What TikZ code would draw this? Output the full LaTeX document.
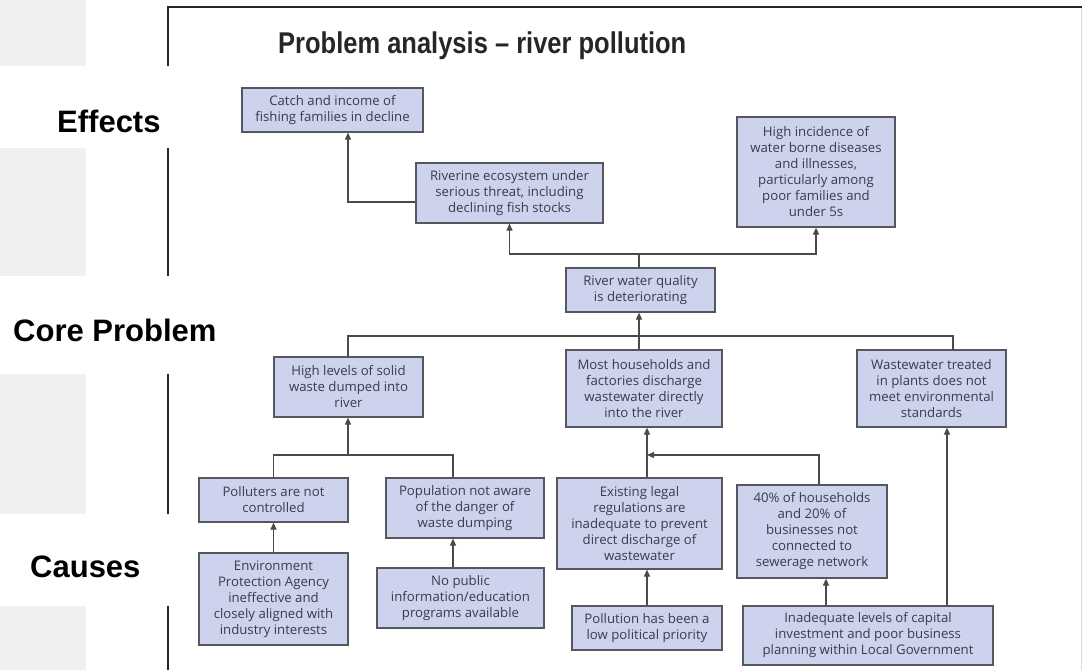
\documentclass[tikz,border=0pt]{standalone}
\usepackage{fontspec}
\usetikzlibrary{arrows.meta,calc}
\newfontfamily\boxfam{Open Sans}
\newfontfamily\lblfam{Liberation Sans}
\definecolor{boxfill}{HTML}{CDD3EC}
\definecolor{boxline}{HTML}{55575F}
\definecolor{boxtext}{HTML}{3A3C4C}
\definecolor{sidegray}{HTML}{F0F0F0}
\definecolor{connline}{HTML}{4A4A4A}
\tikzset{
  box/.style={draw=boxline, fill=boxfill, line width=1.2pt, inner sep=0pt, align=center,
    text=boxtext, font=\boxfam\fontsize{13.2}{16}\selectfont},
  conn/.style={draw=connline, line width=1.2pt},
  arr/.style={conn, -{Triangle[length=7pt,width=6pt]}},
  lbl/.style={anchor=base west, inner sep=0pt, font=\lblfam\bfseries\fontsize{31}{31}\selectfont}
}
\begin{document}
\begin{tikzpicture}[x=1pt,y=-1pt]
\useasboundingbox (0,0) rectangle (1082,670);
% side gray column
\fill[sidegray] (0,0) rectangle (86,66);
\fill[sidegray] (0,148) rectangle (86,276);
\fill[sidegray] (0,374) rectangle (86,514);
\fill[sidegray] (0,606) rectangle (86,670);
% frame
\draw[line width=2pt, color=black!85] (168,670) -- (168,606);
\draw[line width=2pt, color=black!85] (168,514) -- (168,374);
\draw[line width=2pt, color=black!85] (168,276) -- (168,148);
\draw[line width=2pt, color=black!85] (168,66) -- (168,7) -- (1082,7);
\draw[line width=1pt, color=black!15] (1081,8) -- (1081,670);
% labels
\node[lbl] (effects) at (57,132) {Effects};
\node[lbl] (core) at (13,341) {Core Problem};
\node[lbl] (causes) at (30,577) {Causes};
% title
\node[anchor=base west, inner sep=0pt, text=black!85, font=\lblfam\bfseries\fontsize{30}{30}\selectfont] (title) at (278,53) {\scalebox{0.85}[1]{Problem analysis – river pollution}};
% boxes
\node[box, minimum width=181, minimum height=44] (catch) at (332.5,110) {Catch and income of\\fishing families in decline};
\node[box, minimum width=187, minimum height=60] (riverine) at (509.5,193) {Riverine ecosystem under\\serious threat, including\\declining fish stocks};
\node[box, minimum width=158, minimum height=110] (highinc) at (816,172) {High incidence of\\water borne diseases\\and illnesses,\\particularly among\\poor families and\\under 5s};
\node[box, minimum width=149, minimum height=44] (river) at (640.5,290) {River water quality\\is deteriorating};
\node[box, minimum width=149, minimum height=60] (highlev) at (348.5,387) {High levels of solid\\waste dumped into\\river};
\node[box, minimum width=156, minimum height=77] (most) at (644,388.5) {Most households and\\factories discharge\\wastewater directly\\into the river};
\node[box, minimum width=149, minimum height=77] (wastew) at (931.5,388.5) {Wastewater treated\\in plants does not\\meet environmental\\standards};
\node[box, minimum width=149, minimum height=44] (polluters) at (273.5,500) {Polluters are not\\controlled};
\node[box, minimum width=158, minimum height=60] (population) at (465,508) {Population not aware\\of the danger of\\waste dumping};
\node[box, minimum width=165, minimum height=91] (existing) at (639.5,523.5) {Existing legal\\regulations are\\inadequate to prevent\\direct discharge of\\wastewater};
\node[box, minimum width=150, minimum height=93] (forty) at (812,531.5) {40\% of households\\and 20\% of\\businesses not\\connected to\\sewerage network};
\node[box, minimum width=149, minimum height=92] (epa) at (273.5,599) {Environment\\Protection Agency\\ineffective and\\closely aligned with\\industry interests};
\node[box, minimum width=167, minimum height=60] (nopublic) at (460.5,598) {No public\\information/education\\programs available};
\node[box, minimum width=150, minimum height=44] (pollution) at (647,628) {Pollution has been a\\low political priority};
\node[box, minimum width=250, minimum height=59] (inadequate) at (868,635.5) {Inadequate levels of capital\\investment and poor business\\planning within Local Government};
% junction coordinates
\coordinate (jtop) at (639,254);
\coordinate (jcatch) at (348,202);
\coordinate (jmid) at (639,336);
\coordinate (jhl) at (348,455);
\coordinate (jex) at (647,455);
\coordinate (jforty) at (819,455);
\coordinate (xnp) at (453,0);
\coordinate (xinv) at (826,0);
\coordinate (xww) at (947,0);
% effects connectors
\draw[conn] (river.north -| jtop) -- (jtop);
\draw[arr] (jtop) -| (riverine.south);
\draw[arr] (jtop) -| (highinc.south);
\draw[arr] (riverine.west |- jcatch) -- (jcatch) -- (jcatch |- catch.south);
% core problem
\draw[arr] (most.north -| jmid) -- (river.south -| jmid);
\draw[conn] (jmid) -| (highlev.north -| jcatch);
\draw[conn] (jmid) -| (953,350);
% solid waste branch
\draw[arr] (jhl) -- (highlev.south -| jhl);
\draw[conn] (jhl) -| (polluters.north);
\draw[conn] (jhl) -| (population.north -| xnp);
\draw[arr] (epa.north) -- (polluters.south);
\draw[arr] (nopublic.north -| xnp) -- (population.south -| xnp);
% wastewater branch
\draw[arr] (existing.north -| jex) -- (most.south -| jex);
\draw[arr] (forty.north -| jforty) -- (jforty) -- (jex);
\draw[arr] (pollution.north -| jex) -- (existing.south -| jex);
\draw[arr] (inadequate.north -| xinv) -- (forty.south -| xinv);
\draw[arr] (inadequate.north -| xww) -- (wastew.south -| xww);
\end{tikzpicture}
\end{document}
